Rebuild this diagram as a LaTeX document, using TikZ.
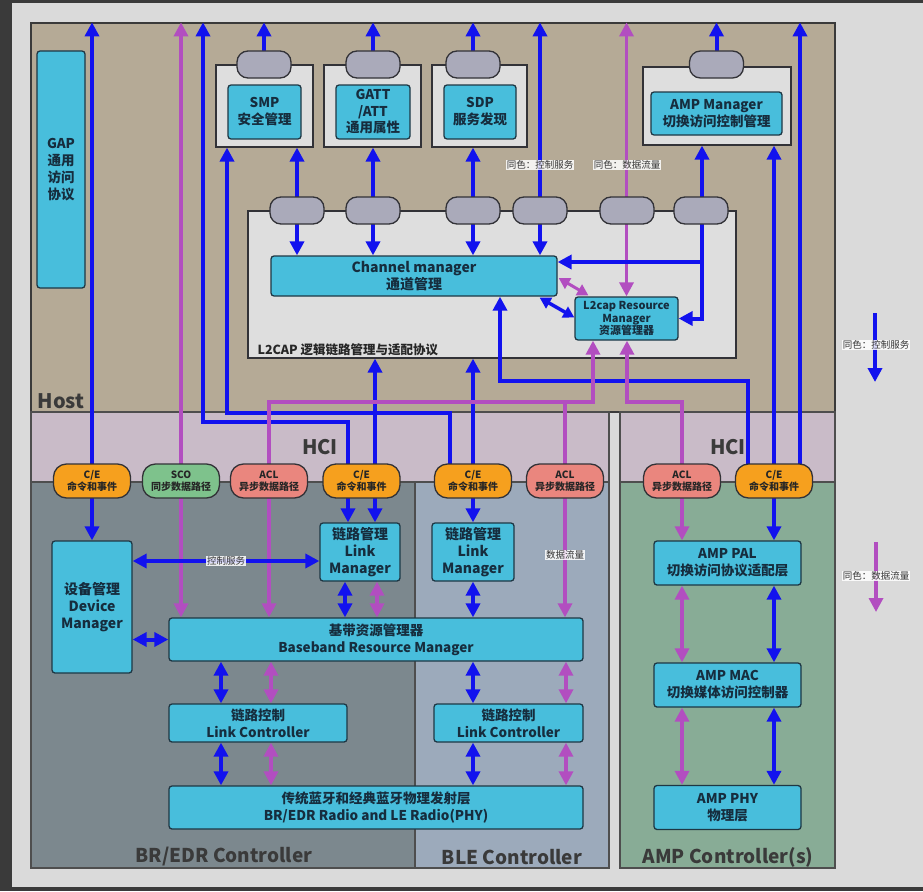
\documentclass[tikz,border=0pt]{standalone}
\usepackage{fontspec}
\setmainfont{Noto Sans CJK SC}
\usetikzlibrary{arrows.meta}
\definecolor{framedk}{RGB}{58,58,58}
\definecolor{framelt}{RGB}{218,218,218}
\definecolor{hostc}{RGB}{181,170,150}
\definecolor{hcic}{RGB}{201,187,200}
\definecolor{bredrc}{RGB}{124,136,142}
\definecolor{blec}{RGB}{156,170,187}
\definecolor{ampc}{RGB}{136,172,150}
\definecolor{contc}{RGB}{222,222,222}
\definecolor{cyanb}{RGB}{72,190,220}
\definecolor{boxdk}{RGB}{30,55,68}
\definecolor{txtc}{RGB}{22,45,62}
\definecolor{pillc}{RGB}{170,170,186}
\definecolor{pilldk}{RGB}{50,50,55}
\definecolor{cec}{RGB}{246,160,30}
\definecolor{scoc}{RGB}{126,194,140}
\definecolor{aclc}{RGB}{234,134,126}
\definecolor{myblue}{RGB}{18,18,238}
\definecolor{mypurp}{RGB}{178,78,192}
\definecolor{lbltxt}{RGB}{58,58,58}
\pgfdeclarelayer{bg}
\pgfdeclarelayer{ln}
\pgfsetlayers{bg,ln,main}
\begin{document}
\begin{tikzpicture}[x=1pt,y=-1pt,
  Ah/.tip={Triangle[width=14pt,length=14pt]},
  As/.tip={Triangle[width=12pt,length=11pt]},
  region/.style={draw=framedk, line width=1.3pt, inner sep=0pt},
  regline/.style={draw=framedk!90, line width=1.3pt},
  cont/.style={draw=pilldk, fill=contc, line width=1.2pt, inner sep=0pt},
  cbox/.style={draw=boxdk, fill=cyanb, line width=1.3pt, rounded corners=3pt, align=center, text=txtc, font=\bfseries\fontsize{13.5}{17}\selectfont, inner sep=0pt},
  pillT/.style={draw=pilldk, fill=pillc, line width=1.3pt, rounded corners=11pt, minimum width=54pt, minimum height=27pt, inner sep=0pt},
  hpill/.style={draw=pilldk, line width=1.3pt, rounded corners=13pt, minimum width=77pt, minimum height=34pt, align=center, font=\bfseries\fontsize{10}{12}\selectfont, text=black!85, inner sep=0pt},
  B/.style={draw=myblue, line width=4pt},
  P/.style={draw=mypurp, line width=3.3pt},
  lbl/.style={fill=white, fill opacity=0.85, text opacity=1, font=\fontsize{9.5}{10}\selectfont, inner sep=1pt, text=black!80},
  biglbl/.style={font=\bfseries\fontsize{19}{21}\selectfont, text=lbltxt}]
\useasboundingbox (0,0) rectangle (923,891);
\begin{pgfonlayer}{bg}
  \fill[framedk] (0,0) rectangle (923,891);
  \fill[framelt] (12,3) rectangle (923,887);
  \node[region, fill=hostc, minimum width=804pt, minimum height=389pt] (host) at (433,217.5) {};
  \fill[hcic] (31,412) rectangle (609,482);
  \fill[bredrc] (31,482) rectangle (415,868);
  \fill[blec] (415,482) rectangle (609,868);
  \draw[regline] (31,412) rectangle (609,868) (31,482) -- (609,482) (415,482) -- (415,868);
  \fill[hcic] (620,412) rectangle (835,482);
  \fill[ampc] (620,482) rectangle (835,868);
  \draw[regline] (620,412) rectangle (835,868) (620,482) -- (835,482);
  \node[cont, minimum width=97pt, minimum height=82pt] (smpC) at (264.5,106) {};
  \node[cont, minimum width=97pt, minimum height=82pt] (gattC) at (372.5,106) {};
  \node[cont, minimum width=95pt, minimum height=82pt] (sdpC) at (479.5,106) {};
  \node[cont, minimum width=148pt, minimum height=78pt] (ampC) at (717,106) {};
  \node[cont, minimum width=488pt, minimum height=147pt] (l2cap) at (492,284.5) {};
\end{pgfonlayer}

% labels of regions
\node[biglbl, font=\bfseries\fontsize{20}{22}\selectfont] (hostlbl) at (61,401) {Host};
\node[biglbl, font=\bfseries\fontsize{20}{22}\selectfont] (hci1) at (320,447) {HCI};
\node[biglbl, font=\bfseries\fontsize{20}{22}\selectfont] (hci2) at (728,447) {HCI};
\node[biglbl] (brlbl) at (224,857) {BR/EDR Controller};
\node[biglbl] (blelbl) at (512,857) {BLE Controller};
\node[biglbl] (amplbl) at (728,857) {AMP Controller(s)};

% host boxes
\node[cbox, minimum width=48pt, minimum height=237pt] (gap) at (61,169.5) {GAP\\通用\\访问\\协议};
\node[cbox, minimum width=73pt, minimum height=54pt] (smp) at (264.5,112) {SMP\\安全管理};
\node[cbox, minimum width=74pt, minimum height=54pt, font=\bfseries\fontsize{13.5}{16.5}\selectfont] (gatt) at (373,112) {GATT\\/ATT\\通用属性};
\node[cbox, minimum width=72pt, minimum height=54pt] (sdp) at (480,112) {SDP\\服务发现};
\node[cbox, minimum width=131pt, minimum height=43pt] (ampm) at (716.5,113.5) {AMP Manager\\切换访问控制管理};
\node[pillT] (tp1) at (264,64.5) {};
\node[pillT] (tp2) at (373,64.5) {};
\node[pillT] (tp3) at (473,64.5) {};
\node[pillT] (tp4) at (716.5,64.5) {};
\node[pillT] (lp1) at (297,210.5) {};
\node[pillT] (lp2) at (373,210.5) {};
\node[pillT] (lp3) at (473,210.5) {};
\node[pillT] (lp4) at (540,210.5) {};
\node[pillT] (lp5) at (627,210.5) {};
\node[pillT] (lp6) at (701,210.5) {};
\node[cbox, minimum width=286pt, minimum height=40pt, font=\bfseries\fontsize{14}{17}\selectfont] (cm) at (414,276) {Channel manager\\通道管理};
\node[cbox, minimum width=103pt, minimum height=43pt, font=\bfseries\fontsize{11}{12.5}\selectfont] (rm) at (626.5,318.5) {L2cap Resource\\Manager\\资源管理器};
\node[anchor=west, font=\bfseries\fontsize{12.5}{14}\selectfont, text=black!85] (l2lbl) at (254,350) {L2CAP 逻辑链路管理与适配协议};

% HCI pills
\node[hpill, fill=cec] (ce1) at (92,481) {C/E\\命令和事件};
\node[hpill, fill=scoc] (sco) at (181,481) {SCO\\同步数据路径};
\node[hpill, fill=aclc] (acl1) at (269,481) {ACL\\异步数据路径};
\node[hpill, fill=cec] (ce2) at (361.5,481) {C/E\\命令和事件};
\node[hpill, fill=cec] (ce3) at (473,481) {C/E\\命令和事件};
\node[hpill, fill=aclc] (acl2) at (565,481) {ACL\\异步数据路径};
\node[hpill, fill=aclc] (acl3) at (682,481) {ACL\\异步数据路径};
\node[hpill, fill=cec] (ce4) at (774,481) {C/E\\命令和事件};

% controller boxes
\node[cbox, minimum width=80pt, minimum height=132pt, font=\bfseries\fontsize{14}{17}\selectfont] (dm) at (92,607) {设备管理\\Device\\Manager};
\node[cbox, minimum width=80pt, minimum height=58pt, font=\bfseries\fontsize{14}{17}\selectfont] (lm1) at (360,552) {链路管理\\Link\\Manager};
\node[cbox, minimum width=82pt, minimum height=58pt, font=\bfseries\fontsize{14}{17}\selectfont] (lm2) at (473,552) {链路管理\\Link\\Manager};
\node[cbox, minimum width=414pt, minimum height=43pt] (bb) at (376,639.5) {基带资源管理器\\Baseband Resource Manager};
\node[cbox, minimum width=178pt, minimum height=38pt] (lc1) at (258,723) {链路控制\\Link Controller};
\node[cbox, minimum width=149pt, minimum height=38pt] (lc2) at (508.5,723) {链路控制\\Link Controller};
\node[cbox, minimum width=414pt, minimum height=43pt] (radio) at (376,807.5) {传统蓝牙和经典蓝牙物理发射层\\BR/EDR Radio and LE Radio(PHY)};
\node[cbox, minimum width=147pt, minimum height=44pt] (pal) at (727.5,563) {AMP PAL\\切换访问协议适配层};
\node[cbox, minimum width=147pt, minimum height=44pt] (mac) at (727.5,685) {AMP MAC\\切换媒体访问控制器};
\node[cbox, minimum width=147pt, minimum height=44pt] (phy) at (727.5,807.5) {AMP PHY\\物理层};

% text labels with light background
\node[lbl] (t1) at (540,165) {同色：控制服务};
\node[lbl] (t2) at (627,165) {同色：数据流量};
\node[lbl] (t3) at (226,561) {控制服务};
\node[lbl] (t4) at (565,555) {数据流量};
\node[lbl] (t5) at (876,345) {同色：控制服务};
\node[lbl] (t6) at (876,576) {同色：数据流量};
\coordinate (lgB1) at (875,313);
\coordinate (lgB2) at (875,382);
\coordinate (lgP1) at (876,542);
\coordinate (lgP2) at (876,612);

\begin{pgfonlayer}{ln}
  % top pills to host top
  \foreach \p in {tp1,tp2,tp3,tp4} \draw[B,-{Ah}] (\p.center) -- (\p.center |- host.north);
  % profile boxes <-> channel manager
  \draw[B,{Ah}-{Ah}] (297,0 |- cm.north) -- (297,0 |- smpC.south);
  \draw[B,{Ah}-{Ah}] (373,0 |- cm.north) -- (373,0 |- gattC.south);
  \draw[B,{Ah}-{Ah}] (473,0 |- cm.north) -- (473,0 |- sdpC.south);
  \draw[B,{Ah}-{Ah}] (540,0 |- cm.north) -- (540,0 |- host.north);
  \draw[P,{Ah}-{Ah}] (rm.north) -- (rm.north |- host.north);
  \draw[B,{Ah}-{Ah}] (702,0 |- ampC.south) -- (702,0 |- rm.east) -- (rm.east);
  \draw[B,-{Ah}] (702,262) -- (cm.east |- 0,262);
  \draw[P,line width=3pt,{As}-{As}] ([shift={(1,2)}]cm.east) -- ([shift={(14,-1)}]rm.north west);
  \draw[B,line width=3.5pt,{As}-{As}] ([shift={(-18,1)}]cm.south east) -- ([shift={(0,-1)}]rm.west);
  % host <-> HCI
  \draw[B,{Ah}-{Ah}] (dm.north) -- (dm.north |- host.north);
  \draw[P,{Ah}-{Ah}] (sco.center |- bb.north) -- (sco.center |- host.north);
  \draw[B,{Ah}-{Ah}] (348,0 |- lm1.north) -- (348,422) -- (203,422) -- (203,0 |- host.north);
  \draw[B,{Ah}-{Ah}] (375,0 |- lm1.north) -- (375,0 |- l2cap.south);
  \draw[B,-{Ah}] (450,0 |- ce3.center) -- (450,413) -- (227,413) -- (227,0 |- smpC.south);
  \draw[B,{Ah}-{Ah}] (lm2.north) -- (lm2.north |- l2cap.south);
  \draw[B,-{Ah}] (748,0 |- ce4.center) -- (748,381) -- (500,381) -- (500,0 |- cm.south);
  \draw[B,{Ah}-{Ah}] (774,0 |- pal.north) -- (774,0 |- ampC.south);
  \draw[B,-{Ah}] (800,0 |- ce4.center) -- (800,0 |- host.north);
  \draw[P,{Ah}-{Ah}] (269,0 |- bb.north) -- (269,402) -- (593,402) -- (593,0 |- rm.south);
  \draw[P,-{Ah}] (565,402) -- (565,0 |- bb.north);
  \draw[P,{Ah}-{Ah}] (682,0 |- pal.north) -- (682,402) -- (627,402) -- (627,0 |- rm.south);
  % controllers
  \draw[B,{Ah}-{Ah}] (dm.east |- 0,561) -- (lm1.west |- 0,561);
  \draw[B,{Ah}-{Ah}] (dm.east |- bb.west) -- (bb.west);
  \draw[B,{Ah}-{Ah}] (345,0 |- lm1.south) -- (345,0 |- bb.north);
  \draw[P,{Ah}-{Ah}] (377,0 |- lm1.south) -- (377,0 |- bb.north);
  \draw[B,{Ah}-{Ah}] (lm2.south) -- (lm2.south |- bb.north);
  \foreach \x in {221,473} {
    \draw[B,{Ah}-{Ah}] (\x,0 |- bb.south) -- (\x,0 |- lc1.north);
    \draw[B,{Ah}-{Ah}] (\x,0 |- lc1.south) -- (\x,0 |- radio.north);
  }
  \foreach \x in {271,566} {
    \draw[P,{Ah}-{Ah}] (\x,0 |- bb.south) -- (\x,0 |- lc1.north);
    \draw[P,{Ah}-{Ah}] (\x,0 |- lc1.south) -- (\x,0 |- radio.north);
  }
  \draw[P,{Ah}-{Ah}] (682,0 |- pal.south) -- (682,0 |- mac.north);
  \draw[P,{Ah}-{Ah}] (682,0 |- mac.south) -- (682,0 |- phy.north);
  \draw[B,{Ah}-{Ah}] (774,0 |- pal.south) -- (774,0 |- mac.north);
  \draw[B,{Ah}-{Ah}] (774,0 |- mac.south) -- (774,0 |- phy.north);
  % legend
  \draw[B,line width=3.5pt,-{Ah}] (lgB1) -- (lgB2);
  \draw[P,-{Ah}] (lgP1) -- (lgP2);
\end{pgfonlayer}
\end{tikzpicture}
\end{document}
